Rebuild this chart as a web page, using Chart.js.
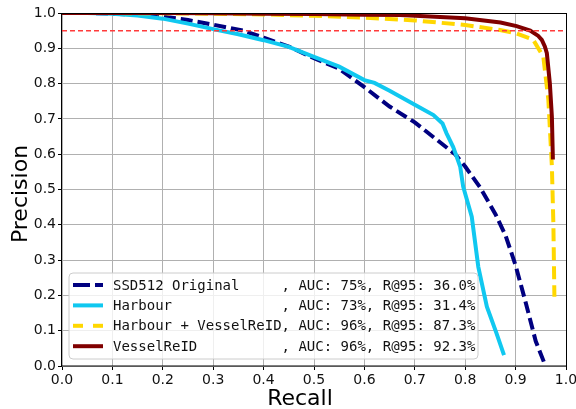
<!DOCTYPE html>
<html>
<head>
<meta charset="utf-8">
<script src="https://cdn.jsdelivr.net/npm/chart.js@4"></script>
<style>
    html, body { margin: 0; padding: 0; background: #fff; }
</style>
</head>
<body>
<canvas id="prChart" width="576" height="409"></canvas>
<script>
// legend text parts
const seriesNames = ['SSD512 Original', 'Harbour', 'Harbour + VesselReID', 'VesselReID'];
const aucValues = [75, 73, 96, 96];
const r95Values = ['36.0', '31.4', '87.3', '92.3'];

// curves (recall -> precision)
const ssdRecall = [0, 0.05, 0.1, 0.15, 0.2, 0.25, 0.3, 0.36, 0.4, 0.45, 0.5, 0.55, 0.6, 0.65, 0.7, 0.74, 0.78, 0.8, 0.83, 0.86, 0.88, 0.9, 0.92, 0.94, 0.958];
const ssdPrecision = [1.0, 1.0, 0.998, 0.995, 0.99, 0.98, 0.967, 0.95, 0.93, 0.905, 0.872, 0.842, 0.79, 0.735, 0.69, 0.645, 0.6, 0.565, 0.505, 0.43, 0.37, 0.285, 0.18, 0.07, 0.005];

const harbourRecall = [0, 0.05, 0.1, 0.15, 0.2, 0.25, 0.314, 0.35, 0.4, 0.45, 0.5, 0.55, 0.6, 0.62, 0.65, 0.7, 0.737, 0.755, 0.763, 0.776, 0.783, 0.79, 0.796, 0.813, 0.826, 0.843, 0.862, 0.877];
const harbourPrecision = [1.0, 1.0, 0.998, 0.993, 0.984, 0.97, 0.95, 0.94, 0.923, 0.904, 0.876, 0.848, 0.81, 0.802, 0.78, 0.74, 0.711, 0.687, 0.659, 0.621, 0.593, 0.565, 0.508, 0.423, 0.281, 0.168, 0.093, 0.031];

const comboRecall = [0, 0.1, 0.2, 0.3, 0.4, 0.5, 0.6, 0.7, 0.8, 0.869, 0.902, 0.935, 0.955, 0.965, 0.972, 0.975, 0.977];
const comboPrecision = [1.0, 1.0, 0.999, 0.998, 0.996, 0.992, 0.987, 0.979, 0.966, 0.952, 0.942, 0.924, 0.876, 0.754, 0.565, 0.4, 0.196];

const reidRecall = [0, 0.1, 0.2, 0.3, 0.4, 0.5, 0.6, 0.671, 0.8, 0.87, 0.902, 0.929, 0.945, 0.952, 0.958, 0.962, 0.968, 0.972, 0.974];
const reidPrecision = [1.0, 1.0, 1.0, 0.999, 0.998, 0.997, 0.995, 0.994, 0.985, 0.973, 0.963, 0.95, 0.935, 0.924, 0.905, 0.886, 0.8, 0.706, 0.585];

const thresholdRecall = [0, 1];
const thresholdPrecision = [0.95, 0.95];

const toPoints = (xs, ys) => xs.map((x, i) => ({ x: x, y: ys[i] }));

const seriesColors = ['#000080', '#10c8f0', '#ffd700', '#800000'];
const seriesDash = [[12, 5], [], [13, 6], []];
const legendDash = [[17, 5], [], [10, 10], []];

const datasets = [
    { label: seriesNames[0], data: toPoints(ssdRecall, ssdPrecision), order: 5 },
    { label: seriesNames[1], data: toPoints(harbourRecall, harbourPrecision), order: 4 },
    { label: seriesNames[2], data: toPoints(comboRecall, comboPrecision), order: 3 },
    { label: seriesNames[3], data: toPoints(reidRecall, reidPrecision), order: 2 }
].map((d, i) => Object.assign(d, {
    borderColor: seriesColors[i],
    borderWidth: 4,
    borderDash: seriesDash[i],
    pointRadius: 0,
    showLine: true,
    tension: 0,
    clip: 0
}));

datasets.push({
    label: 'P = 0.95',
    data: toPoints(thresholdRecall, thresholdPrecision),
    borderColor: '#ff3b3b',
    borderWidth: 1.5,
    borderDash: [5, 3],
    pointRadius: 0,
    showLine: true,
    order: 1,
    clip: 0
});

// frame on all four sides
const framePlugin = {
    id: 'frame',
    afterDatasetsDraw(chart) {
        const { ctx, chartArea: a } = chart;
        ctx.save();
        ctx.strokeStyle = '#000';
        ctx.lineWidth = 1;
        ctx.strokeRect(Math.round(a.left) - 0.5, Math.round(a.top) + 0.5,
            Math.round(a.right - a.left) + 1, Math.round(a.bottom - a.top) - 0.5);
        ctx.restore();
    }
};

// axis labels, placed where the original has them
const axisLabelPlugin = {
    id: 'axisLabels',
    afterDraw(chart) {
        const ctx = chart.ctx;
        ctx.save();
        ctx.fillStyle = '#000';
        ctx.font = '22px "DejaVu Sans"';
        ctx.textAlign = 'center';
        ctx.textBaseline = 'alphabetic';
        ctx.fillText('Recall', 300, 405);
        ctx.translate(27, 194);
        ctx.rotate(-Math.PI / 2);
        ctx.fillText('Precision', 0, 0);
        ctx.restore();
    }
};

// matplotlib style legend inside the axes
const legendPlugin = {
    id: 'boxLegend',
    afterDraw(chart) {
        const ctx = chart.ctx;
        const bx = 69, by = 273, bw = 409, bh = 86, r = 4;
        ctx.save();
        ctx.beginPath();
        ctx.moveTo(bx + r, by);
        ctx.arcTo(bx + bw, by, bx + bw, by + bh, r);
        ctx.arcTo(bx + bw, by + bh, bx, by + bh, r);
        ctx.arcTo(bx, by + bh, bx, by, r);
        ctx.arcTo(bx, by, bx + bw, by, r);
        ctx.closePath();
        ctx.fillStyle = 'rgba(255,255,255,0.8)';
        ctx.fill();
        ctx.strokeStyle = '#cccccc';
        ctx.lineWidth = 1;
        ctx.stroke();

        ctx.font = '14px "DejaVu Sans Mono"';
        ctx.textBaseline = 'middle';
        ctx.fillStyle = '#111';
        seriesNames.forEach((name, i) => {
            const y = 285 + i * 20.4;
            ctx.beginPath();
            ctx.setLineDash(legendDash[i]);
            ctx.strokeStyle = seriesColors[i];
            ctx.lineWidth = 4;
            ctx.moveTo(73, y);
            ctx.lineTo(103, y);
            ctx.stroke();
            ctx.setLineDash([]);
            const text = name.padEnd(20) + ', AUC: ' + aucValues[i] + '%, R@95: ' + r95Values[i] + '%';
            ctx.fillText(text, 113, y + 1);
        });
        ctx.restore();
    }
};

const tickFont = { family: 'DejaVu Sans', size: 14 };
const gridOpts = { color: '#b0b0b0', lineWidth: 1, tickLength: 4, tickColor: '#000' };

new Chart(document.getElementById('prChart').getContext('2d'), {
    type: 'scatter',
    data: { datasets: datasets },
    options: {
        responsive: false,
        animation: false,
        devicePixelRatio: 1,
        layout: { padding: { top: 13, right: 10, left: 0, bottom: 0 } },
        plugins: { legend: { display: false }, tooltip: { enabled: false } },
        scales: {
            x: {
                type: 'linear',
                min: 0,
                max: 1,
                ticks: {
                    stepSize: 0.1,
                    autoSkip: false,
                    maxRotation: 0,
                    padding: 2,
                    color: '#111',
                    font: tickFont,
                    callback: v => v.toFixed(1)
                },
                grid: gridOpts,
                border: { display: false },
                afterFit: s => { s.height = 43; s.paddingLeft = 0; s.paddingRight = 0; }
            },
            y: {
                min: 0,
                max: 1,
                ticks: {
                    stepSize: 0.1,
                    padding: 2,
                    color: '#111',
                    font: tickFont,
                    callback: v => v.toFixed(1)
                },
                grid: gridOpts,
                border: { display: false },
                afterFit: s => { s.width = 62; s.paddingTop = 0; s.paddingBottom = 0; }
            }
        }
    },
    plugins: [framePlugin, legendPlugin, axisLabelPlugin]
});
</script>
</body>
</html>
